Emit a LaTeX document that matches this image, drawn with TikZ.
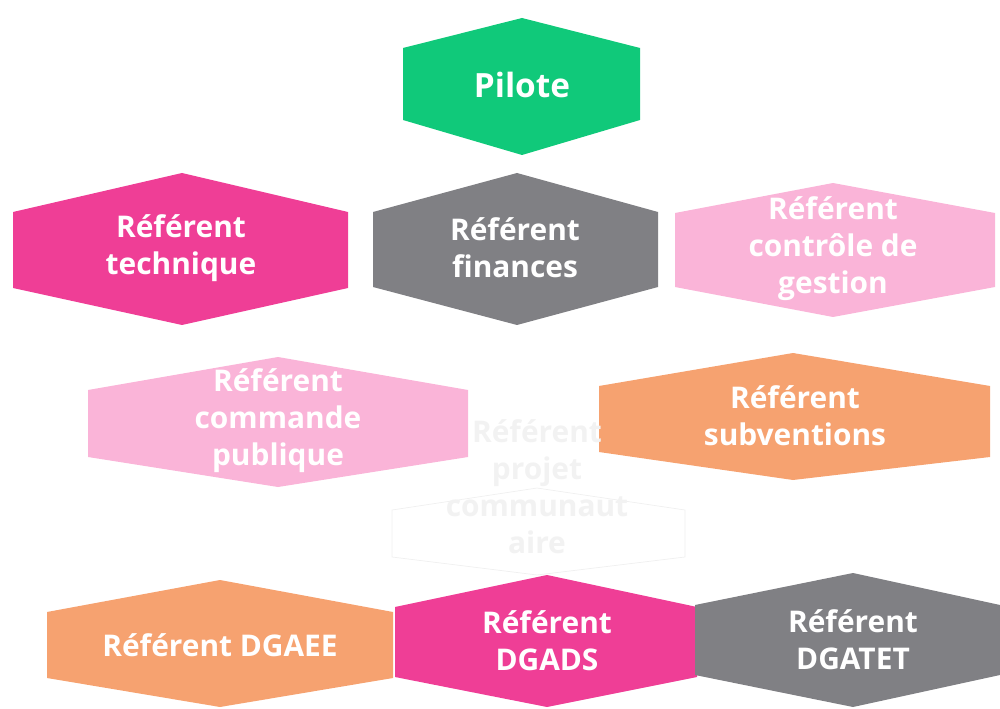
\documentclass[tikz,border=0pt]{standalone}
\usepackage{fontspec}
\setmainfont{Open Sans}
\definecolor{pilotgreen}{RGB}{16,201,122}
\definecolor{hotpink}{RGB}{239,62,150}
\definecolor{midgray}{RGB}{128,128,132}
\definecolor{softpink}{RGB}{250,180,216}
\definecolor{softorange}{RGB}{246,162,112}
\begin{document}
\begin{tikzpicture}[x=0.02cm,y=-0.02cm,
    lbl/.style={text=white,font=\bfseries\fontsize{17}{21}\selectfont,align=center},
    ghost/.style={text=black!5,font=\bfseries\fontsize{17}{21}\selectfont,align=center}]
  \useasboundingbox (0,0) rectangle (1000,709);
  % top
  \fill[pilotgreen] (403,48) -- (522,18) -- (640,48) -- (640,120) -- (522,155) -- (403,120) -- cycle;
  \node[lbl,font=\bfseries\fontsize{19}{23}\selectfont] at (522,85) (pilote) {Pilote};
  % second row
  \fill[hotpink] (13,212) -- (182,173) -- (348,212) -- (348,288) -- (182,325) -- (13,288) -- cycle;
  \node[lbl] at (181,248) (technique) {Référent\\technique};
  \fill[midgray] (373,212) -- (517,173) -- (658,212) -- (658,287) -- (517,325) -- (373,287) -- cycle;
  \node[lbl] at (515,248) (finances) {Référent\\finances};
  \fill[softpink] (675,213) -- (833,183) -- (995,213) -- (995,287) -- (833,317) -- (675,287) -- cycle;
  \node[lbl] at (833,249) (gestion) {Référent\\contrôle de\\gestion};
  % third row
  \fill[softpink] (88,390) -- (278,357) -- (468,390) -- (468,457) -- (278,487) -- (88,457) -- cycle;
  \node[lbl] at (278,421) (commande) {Référent\\commande\\publique};
  \fill[softorange] (599,386) -- (793,353) -- (990,386) -- (990,457) -- (793,480) -- (599,452) -- cycle;
  \node[lbl] at (795,416) (subventions) {Référent\\subventions};
  \draw[black!6,fill=white] (392,510) -- (537,488) -- (685,510) -- (685,557) -- (537,575) -- (392,557) -- cycle;
  \node[ghost] at (537,487) (projet) {Référent\\projet\\communaut\\aire};
  % bottom row
  \fill[softorange] (47,612) -- (220,580) -- (393,612) -- (393,678) -- (220,707) -- (47,678) -- cycle;
  \node[lbl] at (220,645) (dgaee) {Référent DGAEE};
  \fill[hotpink] (395,607) -- (547,575) -- (697,607) -- (697,677) -- (547,707) -- (395,677) -- cycle;
  \node[lbl] at (547,641) (dgads) {Référent\\DGADS};
  \fill[midgray] (695,605) -- (853,573) -- (1000,605) -- (1000,675) -- (853,707) -- (695,675) -- cycle;
  \node[lbl] at (853,640) (dgatet) {Référent\\DGATET};
\end{tikzpicture}
\end{document}
